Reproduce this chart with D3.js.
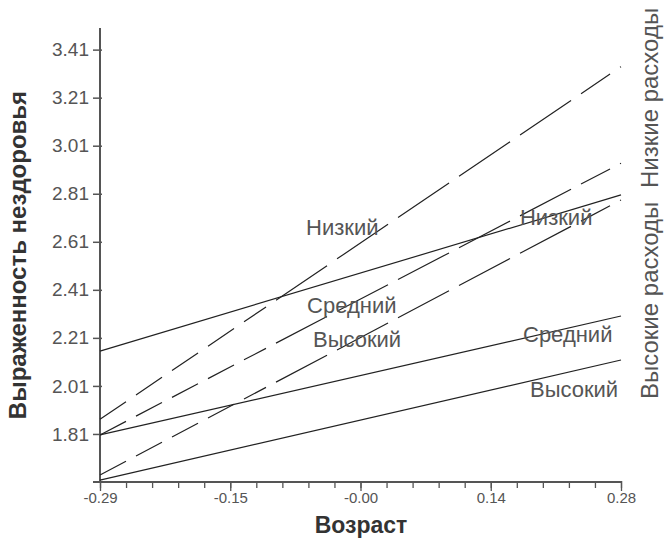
<!DOCTYPE html>
<html><head><meta charset="utf-8">
<script src="https://cdn.jsdelivr.net/npm/d3@7"></script>
<style>
html,body{margin:0;padding:0;background:#fff;}
svg{display:block;}
text{font-family:"Liberation Sans",Arial,sans-serif;}
</style>
</head><body>
<svg id="chart" width="671" height="538"></svg>
<script>
// ---- data ----
const ageDomain = [-0.29, 0.28];
const xTickLabels = ["-0.29", "-0.15", "-0.00", "0.14", "0.28"];
const yDomain = [1.61, 3.50];
const yTickValues = [1.81, 2.01, 2.21, 2.41, 2.61, 2.81, 3.01, 3.21, 3.41];
const yTickLabels = ["1.81", "2.01", "2.21", "2.41", "2.61", "2.81", "3.01", "3.21", "3.41"];
const levels = ["Низкий", "Средний", "Высокий"];
// Высокие расходы (solid lines): value at youngest / oldest age
const highExpenseStart = [2.155, 1.806, 1.618];
const highExpenseEnd   = [2.805, 2.301, 2.118];
// Низкие расходы (dashed lines)
const lowExpenseStart = [1.871, 1.806, 1.639];
const lowExpenseEnd   = [3.339, 2.937, 2.784];
const groupNames = ["Высокие расходы", "Низкие расходы"];
const xAxisTitle = "Возраст";
const yAxisTitle = "Выраженность нездоровья";

// ---- layout / style ----
const plot = {left: 100, right: 621, top: 28, bottom: 482};
const axisColor = "#555", lineColor = "#222", textColor = "#555";
// dash pattern measured along x (pixels), so dashes line up across lines
const xDashPattern = [26,10,26,10,26,10,26,10,22,10,51,10,51,10,51,10,51,10,51,10,29,10,6];
// label anchors in data units [age, value]
const lowLabelAnchors  = [[-0.0646, 2.638], [-0.0635, 2.314], [-0.057, 2.172]];
const highLabelAnchors = [[0.1695, 2.680], [0.1728, 2.193], [0.1804, 1.964]];

const svg = d3.select("#chart");
const x = d3.scaleLinear().domain(ageDomain).range([plot.left, plot.right]);
const y = d3.scaleLinear().domain(yDomain).range([plot.bottom, plot.top]);

// axes
const majorTicks = d3.range(5).map(i => ageDomain[0] + i * (ageDomain[1] - ageDomain[0]) / 4);
const minorTicks = d3.range(21).map(i => ageDomain[0] + i * (ageDomain[1] - ageDomain[0]) / 20);

const gx = svg.append("g").attr("transform", `translate(0,${plot.bottom})`);
gx.call(d3.axisBottom(x).tickValues(minorTicks).tickSize(6).tickSizeOuter(0).tickFormat(""));
gx.call(g => g.select(".domain").remove());
gx.selectAll("line").attr("stroke", axisColor).attr("stroke-width", 1.3).attr("y1", -1);
const gxMaj = svg.append("g").attr("transform", `translate(0,${plot.bottom})`);
gxMaj.call(d3.axisBottom(x).tickValues(majorTicks).tickSize(9).tickPadding(1).tickSizeOuter(0)
  .tickFormat((d, i) => xTickLabels[i]));
gxMaj.call(g => g.select(".domain").remove());
gxMaj.selectAll("line").attr("stroke", axisColor).attr("stroke-width", 1.3).attr("y1", -1);
gxMaj.selectAll("text").attr("fill", textColor).style("font-size", "15px")
  .style("font-family", "'Liberation Sans',Arial,sans-serif");

const gy = svg.append("g").attr("transform", `translate(${plot.left},0)`);
gy.call(d3.axisLeft(y).tickValues(yTickValues).tickSize(7).tickPadding(4).tickSizeOuter(0)
  .tickFormat((d, i) => yTickLabels[i]));
gy.call(g => g.select(".domain").remove());
gy.selectAll("line").attr("stroke", axisColor).attr("stroke-width", 1.5).attr("x2", -7).attr("x1", 2);
gy.selectAll("text").attr("fill", textColor).style("font-size", "19px")
  .style("font-family", "'Liberation Sans',Arial,sans-serif");

// axis lines
svg.append("line").attr("x1", plot.left).attr("x2", plot.left)
  .attr("y1", plot.top).attr("y2", plot.bottom + 1)
  .attr("stroke", axisColor).attr("stroke-width", 2);
svg.append("line").attr("x1", plot.left - 7).attr("x2", plot.right)
  .attr("y1", plot.bottom).attr("y2", plot.bottom)
  .attr("stroke", axisColor).attr("stroke-width", 2);

// lines
const lineGen = d3.line().x(d => x(d[0])).y(d => y(d[1]));
function seriesPoints(start, end) {
  return levels.map((lvl, i) => ({level: lvl, pts: [[ageDomain[0], start[i]], [ageDomain[1], end[i]]]}));
}
const highSeries = seriesPoints(highExpenseStart, highExpenseEnd);
const lowSeries = seriesPoints(lowExpenseStart, lowExpenseEnd);

svg.append("g").selectAll("path").data(highSeries).join("path")
  .attr("d", d => lineGen(d.pts)).attr("fill", "none")
  .attr("stroke", lineColor).attr("stroke-width", 1.2);

svg.append("g").selectAll("path").data(lowSeries).join("path")
  .attr("d", d => lineGen(d.pts)).attr("fill", "none")
  .attr("stroke", lineColor).attr("stroke-width", 1.2)
  .attr("stroke-dasharray", d => {
    const dx = x(d.pts[1][0]) - x(d.pts[0][0]);
    const dy = y(d.pts[1][1]) - y(d.pts[0][1]);
    const k = Math.sqrt(dx * dx + dy * dy) / dx;
    return xDashPattern.map(v => (v * k).toFixed(2)).join(",");
  });

// in-plot labels
const labelSize = "22px";
svg.append("g").selectAll("text").data(levels).join("text")
  .attr("x", (d, i) => x(lowLabelAnchors[i][0])).attr("y", (d, i) => y(lowLabelAnchors[i][1]))
  .attr("fill", textColor).style("font-size", labelSize).text(d => d);
svg.append("g").selectAll("text").data(levels).join("text")
  .attr("x", (d, i) => x(highLabelAnchors[i][0])).attr("y", (d, i) => y(highLabelAnchors[i][1]))
  .attr("fill", textColor).style("font-size", labelSize).text(d => d);

// group labels on the right (rotated)
svg.append("text").attr("transform", "translate(658,399) rotate(-90)")
  .attr("text-anchor", "start").attr("fill", textColor).style("font-size", "24px").text(groupNames[0]);
svg.append("text").attr("transform", "translate(658,188) rotate(-90)")
  .attr("text-anchor", "start").attr("fill", textColor).style("font-size", "24px").text(groupNames[1]);

// axis titles
svg.append("text").attr("x", 361).attr("y", 533).attr("text-anchor", "middle")
  .attr("fill", "#333").style("font-size", "23px").style("font-weight", "bold").text(xAxisTitle);
svg.append("text").attr("transform", "translate(26,255) rotate(-90)").attr("text-anchor", "middle")
  .attr("fill", "#333").style("font-size", "24px").style("font-weight", "bold").text(yAxisTitle);
</script>
</body></html>
